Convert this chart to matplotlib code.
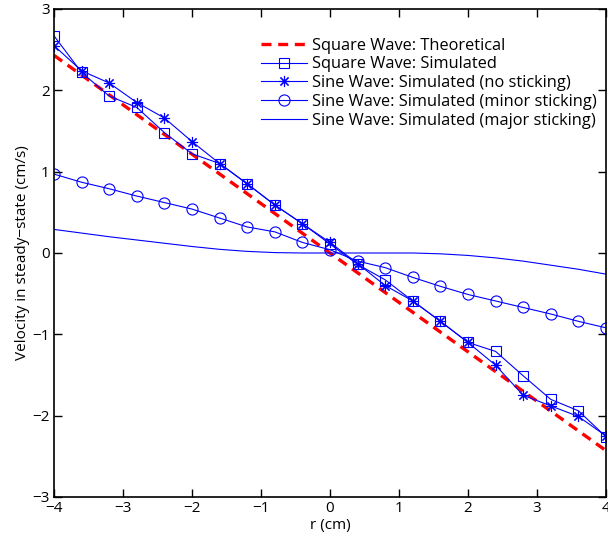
import matplotlib
matplotlib.use("Agg")
import matplotlib.pyplot as plt

plt.rcParams['font.family'] = ['Open Sans', 'DejaVu Sans']

# radial positions (cm)
r = [-4.0, -3.6, -3.2, -2.8, -2.4, -2.0, -1.6, -1.2, -0.8, -0.4, 0.0,
     0.4, 0.8, 1.2, 1.6, 2.0, 2.4, 2.8, 3.2, 3.6, 4.0]

theo_r = [-4.0, 4.0]
theo_v = [2.43, -2.43]

square_sim = [2.67, 2.22, 1.93, 1.79, 1.48, 1.22, 1.10, 0.85, 0.59, 0.36, 0.11,
              -0.14, -0.33, -0.59, -0.84, -1.10, -1.21, -1.51, -1.80, -1.94, -2.26]
sine_none = [2.55, 2.24, 2.09, 1.85, 1.66, 1.37, 1.10, 0.85, 0.59, 0.36, 0.13,
             -0.13, -0.40, -0.59, -0.84, -1.10, -1.38, -1.75, -1.88, -2.01, -2.25]
sine_minor = [0.97, 0.87, 0.79, 0.70, 0.62, 0.54, 0.43, 0.32, 0.26, 0.13, 0.04,
              -0.10, -0.18, -0.30, -0.41, -0.51, -0.59, -0.67, -0.75, -0.84, -0.92]
sine_major = [0.29, 0.245, 0.20, 0.16, 0.12, 0.08, 0.045, 0.02, 0.005, 0.0, 0.0,
              0.0, 0.0, 0.0, -0.01, -0.03, -0.06, -0.10, -0.15, -0.20, -0.26]

fig = plt.figure(figsize=(6.08, 5.41), dpi=100)
ax = fig.add_axes([54 / 608, 1 - 497 / 541, 552 / 608, 488 / 541])

ax.plot(theo_r, theo_v, color='red', lw=2.4, dashes=(3, 2),
        label='Square Wave: Theoretical')
ax.plot(r, square_sim, color='blue', lw=0.8, marker='s', ms=7, mfc='none',
        mec='blue', mew=0.8, label='Square Wave: Simulated')
ax.plot(r, sine_none, color='blue', lw=0.8, marker=(8, 2, 0), ms=8,
        mec='blue', mew=0.8, label='Sine Wave: Simulated (no sticking)')
ax.plot(r, sine_minor, color='blue', lw=0.8, marker='o', ms=8, mfc='none',
        mec='blue', mew=0.8, label='Sine Wave: Simulated (minor sticking)')
ax.plot(r, sine_major, color='blue', lw=0.8,
        label='Sine Wave: Simulated (major sticking)')

ax.set_xlim(-4, 4)
ax.set_ylim(-3, 3)
ax.set_xticks(range(-4, 5))
ax.set_yticks(range(-3, 4))
ax.set_xticklabels([str(v).replace('-', '\u2212') for v in range(-4, 5)])
ax.set_yticklabels([str(v).replace('-', '\u2212') for v in range(-3, 4)])
ax.tick_params(direction='in', top=True, right=True, length=6, width=1,
               labelsize=11, pad=3)
for s in ax.spines.values():
    s.set_linewidth(1.2)

ax.set_xlabel('r (cm)', fontsize=11, labelpad=1)
ax.set_ylabel('Velocity in steady\u2212state (cm/s)', fontsize=11, labelpad=2)

ax.legend(loc='upper right', bbox_to_anchor=(0.995, 0.955), frameon=False,
          fontsize=11.8, handlelength=2.8, handletextpad=0.3, labelspacing=0.17,
          borderaxespad=0)

fig.savefig('out.png', dpi=100)
